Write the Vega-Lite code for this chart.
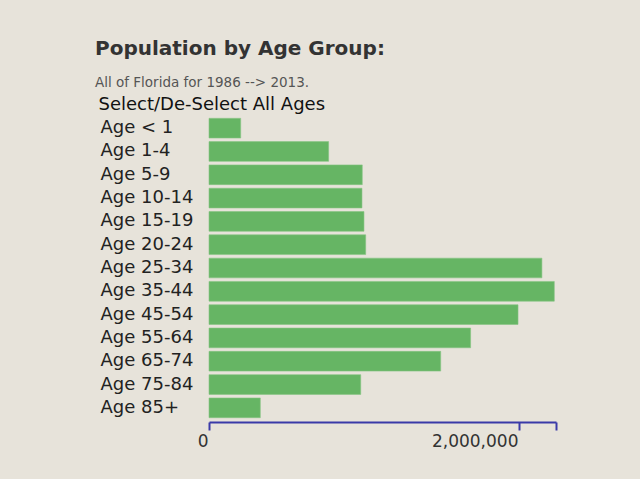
{
  "$schema": "https://vega.github.io/schema/vega-lite/v6.json",
  "width": 347,
  "height": 308,
  "autosize": {"type": "none"},
  "padding": {"left": 209, "top": 114, "right": 84, "bottom": 57},
  "background": "#e7e3da",
  "title": {
    "text": "Population by Age Group:",
    "subtitle": "All of Florida for 1986 --> 2013.",
    "anchor": "start",
    "frame": "group",
    "dx": -114,
    "offset": 6,
    "font": "DejaVu Sans",
    "fontSize": 20,
    "fontWeight": "bold",
    "color": "#333333",
    "subtitleFont": "DejaVu Sans",
    "subtitleFontSize": 13.5,
    "subtitleColor": "#555555",
    "subtitlePadding": 17
  },
  "data": {
    "values": [
      {"age": "Age < 1", "population": 204500},
      {"age": "Age 1-4", "population": 772000},
      {"age": "Age 5-9", "population": 989000},
      {"age": "Age 10-14", "population": 987000},
      {"age": "Age 15-19", "population": 1000000},
      {"age": "Age 20-24", "population": 1011000},
      {"age": "Age 25-34", "population": 2148000},
      {"age": "Age 35-44", "population": 2228000},
      {"age": "Age 45-54", "population": 1994000},
      {"age": "Age 55-64", "population": 1688000},
      {"age": "Age 65-74", "population": 1495000},
      {"age": "Age 75-84", "population": 979000},
      {"age": "Age 85+", "population": 331000}
    ]
  },
  "mark": {"type": "bar", "color": "#66b564", "stroke": "#86c583", "strokeWidth": 0.6},
  "encoding": {
    "y": {
      "field": "age",
      "type": "nominal",
      "sort": null,
      "scale": {"paddingInner": 0.154, "paddingOuter": 0.185},
      "axis": {
        "title": "Select/De-Select All Ages",
        "titleAngle": 0,
        "titleAlign": "left",
        "titleBaseline": "middle",
        "titleX": -111,
        "titleY": -10,
        "titleFont": "DejaVu Sans",
        "titleFontSize": 18,
        "titleFontWeight": "normal",
        "titleColor": "#111111",
        "domain": false,
        "ticks": false,
        "tickSize": 0,
        "labelAlign": "left",
        "labelBaseline": "middle",
        "labelPadding": 109,
        "labelFont": "DejaVu Sans",
        "labelFontSize": 18,
        "labelColor": "#222222"
      }
    },
    "x": {
      "field": "population",
      "type": "quantitative",
      "scale": {"domain": [0, 2239000], "nice": false, "zero": true},
      "axis": {
        "title": null,
        "grid": false,
        "values": [0, 2000000, 2239000],
        "labelExpr": "datum.value > 2100000 ? '' : format(datum.value, ',')",
        "labelFlush": false,
        "labelOverlap": false,
        "labelAlign": "right",
        "labelBaseline": "top",
        "labelOffset": -1,
        "labelPadding": 3,
        "labelFont": "DejaVu Sans",
        "labelFontSize": 17,
        "labelColor": "#333333",
        "domainColor": "#3a3aa8",
        "domainWidth": 2,
        "tickColor": "#3a3aa8",
        "tickWidth": 2,
        "tickSize": 8
      }
    }
  },
  "config": {"view": {"stroke": null}}
}
